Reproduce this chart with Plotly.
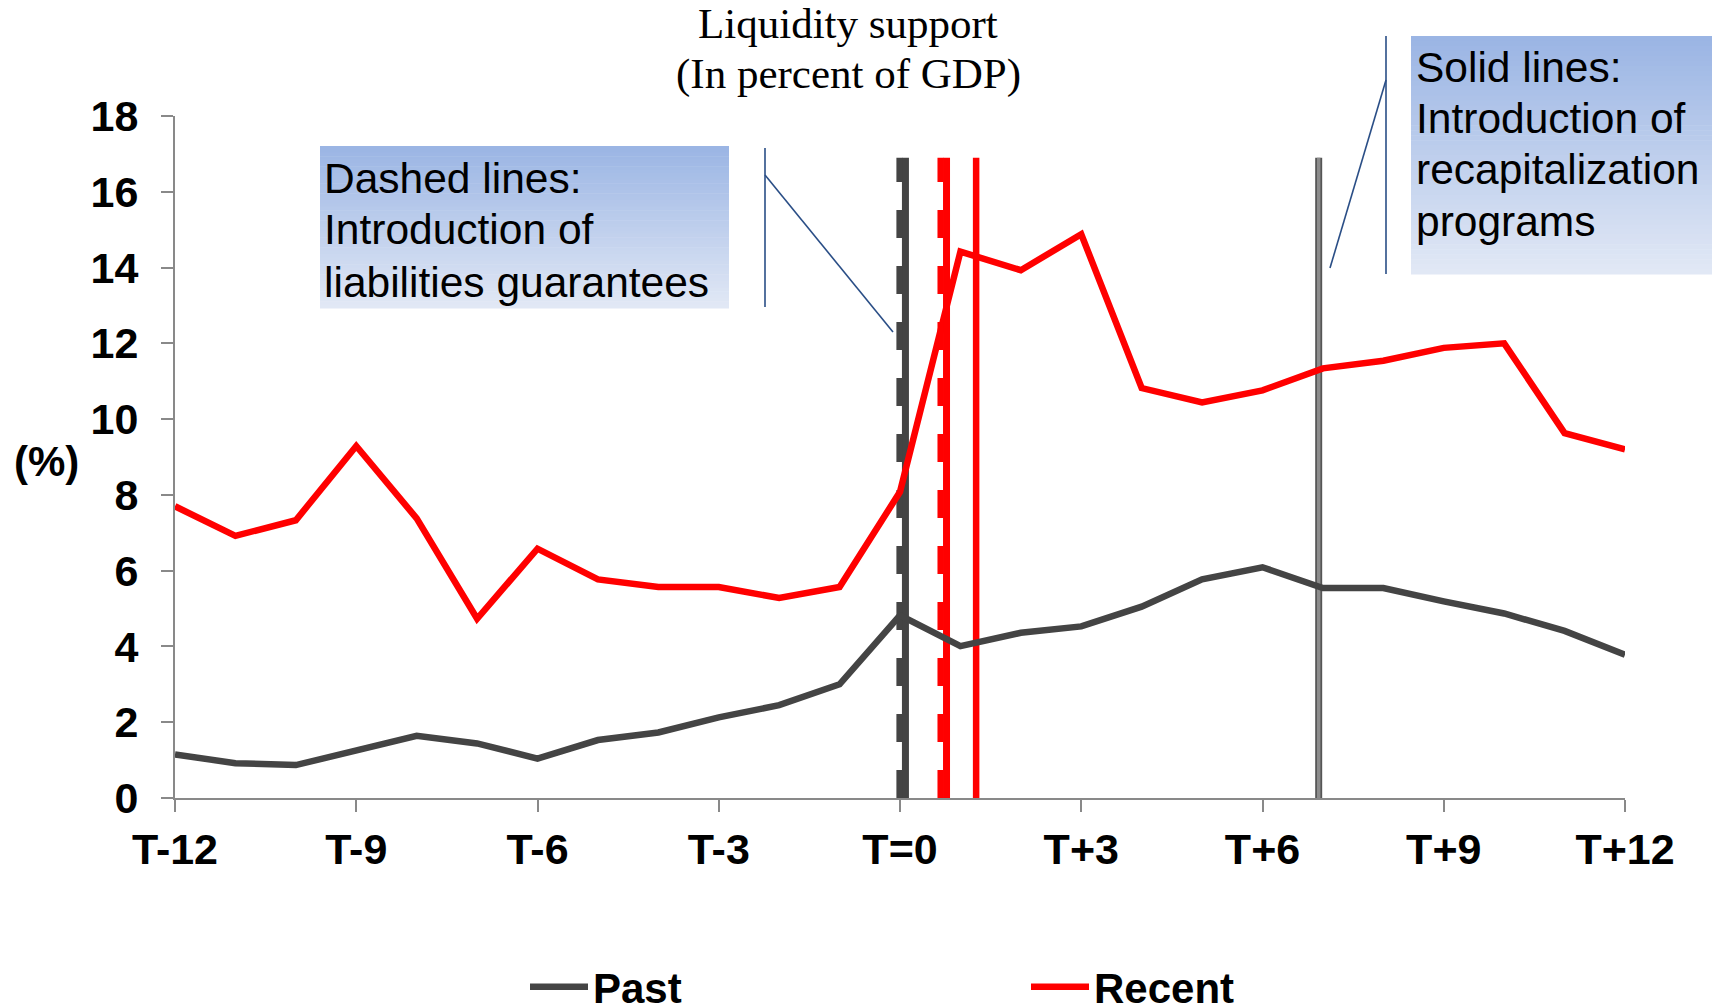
import plotly.graph_objects as go

# Months relative to the start of the crisis (T=0)
periods = list(range(-12, 13))
tick_positions = [-12, -9, -6, -3, 0, 3, 6, 9, 12]
tick_labels = ["T-12", "T-9", "T-6", "T-3", "T=0", "T+3", "T+6", "T+9", "T+12"]

# Liquidity support, percent of GDP
past = [1.15, 0.92, 0.87, 1.27, 1.64, 1.44, 1.04, 1.53, 1.73, 2.13, 2.45, 3.00,
        4.82, 4.01, 4.36, 4.53, 5.05, 5.77, 6.09, 5.54, 5.54, 5.19, 4.87, 4.41, 3.78]
recent = [7.70, 6.92, 7.33, 9.29, 7.38, 4.73, 6.58, 5.77, 5.57, 5.57, 5.28, 5.57,
          8.08, 14.42, 13.93, 14.88, 10.82, 10.44, 10.76, 11.34, 11.54, 11.88, 12.00, 9.63, 9.20]

# Timing of policy measures (months relative to T)
guarantees_past = 0.09
guarantees_recent = 0.77
recap_recent = 1.26
recap_past = 6.93
measure_top = 16.9

title_lines = ["Liquidity support", "(In percent of GDP)"]
dashed_note = ["Dashed lines:", "Introduction of", "liabilities guarantees"]
solid_note = ["Solid lines:", "Introduction of", "recapitalization", "programs"]

W, H = 1714, 1007
L, R, T, B = 175, 1625, 116, 798
DARK = "#444444"
RED = "#FF0000"
AXIS = "#898989"
CALLOUT = "#2A4E86"
SANS = "Liberation Sans, Arial, sans-serif"
SERIF = "Liberation Serif, Times New Roman, serif"


def px_x(px):
    return (px - L) / (R - L)


def px_y(py):
    return (B - py) / (B - T)


fig = go.Figure()

# Step offset (in months) between the solid core and the dash layer
step = 0.1


def dashed_marker(xv, color):
    fig.add_trace(go.Scatter(x=[xv, xv], y=[0, measure_top], mode="lines",
                             line=dict(color=color, width=7),
                             showlegend=False, hoverinfo="skip"))
    fig.add_trace(go.Scatter(x=[xv - step, xv - step], y=[0, measure_top], mode="lines",
                             line=dict(color=color, width=6, dash="28px,28px"),
                             showlegend=False, hoverinfo="skip"))


dashed_marker(guarantees_past, DARK)
dashed_marker(guarantees_recent, RED)

fig.add_trace(go.Scatter(x=[recap_recent, recap_recent], y=[0, measure_top], mode="lines",
                         line=dict(color=RED, width=6.5), showlegend=False, hoverinfo="skip"))
fig.add_trace(go.Scatter(x=[recap_past, recap_past], y=[0, measure_top], mode="lines",
                         line=dict(color="#555555", width=7), showlegend=False, hoverinfo="skip"))
fig.add_trace(go.Scatter(x=[recap_past, recap_past], y=[0, measure_top], mode="lines",
                         line=dict(color="#8C8C8C", width=3.5), showlegend=False, hoverinfo="skip"))

fig.add_trace(go.Scatter(x=periods, y=past, mode="lines", name="Past",
                         line=dict(color=DARK, width=6.5), legend="legend"))
fig.add_trace(go.Scatter(x=periods, y=recent, mode="lines", name="Recent",
                         line=dict(color=RED, width=6.5), legend="legend2"))

shapes = []
annotations = []


def gradient_box(x0, y0, x1, y1, n=48):
    top = (155, 181, 228)
    bot = (225, 232, 245)
    h = (y1 - y0) / n
    for i in range(n):
        t = i / (n - 1)
        c = tuple(round(top[k] + (bot[k] - top[k]) * t) for k in range(3))
        shapes.append(dict(type="rect", xref="paper", yref="paper",
                           x0=px_x(x0), x1=px_x(x1),
                           y0=px_y(y0 + i * h), y1=px_y(y0 + (i + 1) * h + 0.6),
                           fillcolor="rgb(%d,%d,%d)" % c, line=dict(width=0),
                           layer="below"))


def seg(xa, ya, xb, yb):
    shapes.append(dict(type="line", xref="paper", yref="paper",
                       x0=px_x(xa), y0=px_y(ya), x1=px_x(xb), y1=px_y(yb),
                       line=dict(color=CALLOUT, width=1.6)))


def text_lines(lines, x_left, y_first, spacing, size=42.5):
    for i, s in enumerate(lines):
        annotations.append(dict(text=s, xref="paper", yref="paper",
                                x=px_x(x_left), y=px_y(y_first + i * spacing),
                                xanchor="left", yanchor="middle", showarrow=False,
                                font=dict(family=SANS, size=size, color="black")))


# Callout: liabilities guarantees
gradient_box(320, 146, 729, 308)
text_lines(dashed_note, 322, 178, 52)
seg(765, 148, 765, 307)
seg(765, 175, 893, 332)

# Callout: recapitalization programs
gradient_box(1411, 36, 1712, 274)
text_lines(solid_note, 1414, 67, 51.4)
seg(1386, 36, 1386, 274)
seg(1386, 80, 1330, 268)

# Title
for i, s in enumerate(title_lines):
    annotations.append(dict(text=s, xref="paper", yref="paper",
                            x=px_x(848), y=px_y(24 + i * 50),
                            xanchor="center", yanchor="middle", showarrow=False,
                            font=dict(family=SERIF, size=43, color="black")))

# Y-axis unit label
annotations.append(dict(text="<b>(%)</b>", xref="paper", yref="paper",
                        x=px_x(46), y=px_y(461), xanchor="center", yanchor="middle",
                        showarrow=False, font=dict(family=SANS, size=42, color="black")))

legend_font = dict(family=SANS, size=42, color="black", weight="bold")

fig.update_layout(
    width=W, height=H,
    margin=dict(l=L, r=W - R, t=T, b=H - B, autoexpand=False),
    paper_bgcolor="white", plot_bgcolor="white",
    shapes=shapes, annotations=annotations,
    showlegend=True,
    legend=dict(x=px_x(525), y=px_y(987), xanchor="left", yanchor="middle",
                font=legend_font, bgcolor="rgba(0,0,0,0)", itemwidth=58),
    legend2=dict(x=px_x(1026), y=px_y(987), xanchor="left", yanchor="middle",
                 font=legend_font, bgcolor="rgba(0,0,0,0)", itemwidth=58),
    xaxis=dict(range=[-12, 12], tickmode="array", tickvals=tick_positions,
               ticktext=tick_labels, ticks="outside", ticklen=12, tickwidth=2,
               tickcolor=AXIS, showline=True, linecolor=AXIS, linewidth=2,
               showgrid=False, zeroline=False, tickangle=0,
               tickfont=dict(family=SANS, size=43, color="black", weight="bold")),
    yaxis=dict(range=[0, 18], dtick=2, ticks="outside", ticklen=12, tickwidth=2,
               tickcolor=AXIS, showline=True, linecolor=AXIS, linewidth=2,
               showgrid=False, zeroline=False, ticklabelstandoff=14,
               tickfont=dict(family=SANS, size=43, color="black", weight="bold")),
)

fig.write_html("out.html")
